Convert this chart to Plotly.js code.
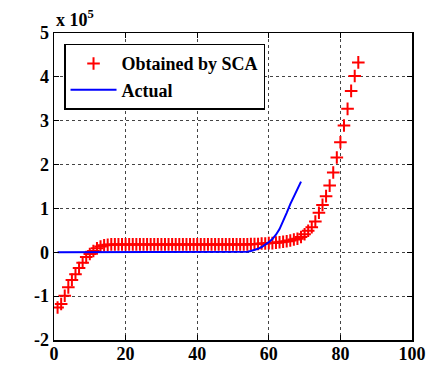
<!DOCTYPE html>
<html>
<head>
<meta charset="utf-8">
<script src="https://cdn.plot.ly/plotly-3.0.1.min.js"></script>
<style>html,body{margin:0;padding:0;background:#fff;}#chart{width:430px;height:365px;}</style>
</head>
<body>
<div id="chart"></div>
<script>
// Values in units of 10^5
const scaX = [1,2,3,4,5,6,7,8,9,10,11,12,13,14,15,16,17,18,19,20,21,22,23,24,25,26,27,28,29,30,31,32,33,34,35,36,37,38,39,40,41,42,43,44,45,46,47,48,49,50,51,52,53,54,55,56,57,58,59,60,61,62,63,64,65,66,67,68,69,70,71,72,73,74,75,76,77,78,79,80,81,82,83,84,85];
const scaY = [-1.26,-1.18,-0.99,-0.80,-0.63,-0.50,-0.36,-0.24,-0.11,-0.04,0.03,0.09,0.13,0.16,0.17,0.18,0.18,0.18,0.18,0.18,0.18,0.18,0.18,0.18,0.18,0.18,0.18,0.18,0.18,0.18,0.18,0.18,0.18,0.18,0.18,0.18,0.18,0.18,0.18,0.18,0.18,0.18,0.18,0.18,0.18,0.18,0.18,0.18,0.18,0.18,0.18,0.18,0.18,0.18,0.185,0.19,0.19,0.20,0.20,0.21,0.21,0.22,0.23,0.24,0.25,0.27,0.29,0.31,0.35,0.41,0.49,0.57,0.70,0.90,1.08,1.28,1.52,1.82,2.16,2.51,2.89,3.27,3.68,4.02,4.33];
const actX = [1,2,3,4,5,6,7,8,9,10,11,12,13,14,15,16,17,18,19,20,21,22,23,24,25,26,27,28,29,30,31,32,33,34,35,36,37,38,39,40,41,42,43,44,45,46,47,48,49,50,51,52,53,54,55,56,57,58,59,60,61,62,63,64,65,66,67,68,69];
const actY = [0,0,0,0,0,0,0,0,0,0,0,0,0,0,0,0,0,0,0,0,0,0,0,0,0,0,0,0,0,0,0,0,0,0,0,0,0,0,0,0,0,0,0,0,0,0,0,0,0,0,0,0,0.005,0.015,0.03,0.05,0.08,0.12,0.17,0.23,0.30,0.40,0.53,0.70,0.90,1.10,1.28,1.45,1.61];
const xTickVals = [0,20,40,60,80,100];
const xTickText = ['0','20','40','60','80','100'];
const yTickVals = [-2,-1,0,1,2,3,4,5];
const yTickText = ['-2','-1','0','1','2','3','4','5'];
const seriesNames = ['Obtained by SCA','Actual'];

const FAM = 'Liberation Serif';
const axisCommon = {
  showline:true, mirror:'ticks', linecolor:'#000', linewidth:1.5,
  ticks:'inside', ticklen:5, tickcolor:'#000', tickwidth:1,
  showgrid:true, gridcolor:'#444', griddash:'dot', gridwidth:1,
  zeroline:false, tickfont:{family:FAM, size:18, color:'#000', weight:'bold'}
};
const data = [
  {x:scaX, y:scaY, name:seriesNames[0], type:'scatter', mode:'markers',
   marker:{symbol:'cross-thin-open', size:9, color:'#ff0000', line:{color:'#ff0000', width:2}}},
  {x:actX, y:actY, name:seriesNames[1], type:'scatter', mode:'lines',
   line:{color:'#0000ff', width:2}}
];
const layout = {
  width:430, height:365,
  margin:{l:54, r:18, t:33, b:25, pad:0},
  paper_bgcolor:'#fff', plot_bgcolor:'#fff',
  font:{family:FAM, size:16, color:'#000'},
  showlegend:true,
  legend:{x:0.028, y:0.965, xanchor:'left', yanchor:'top', bgcolor:'#fff',
    bordercolor:'#000', borderwidth:1.5,
    font:{family:FAM, size:18, color:'#000', weight:'bold'},
    itemwidth:46, tracegroupgap:0},
  xaxis:Object.assign({}, axisCommon, {range:[0,100], tickvals:xTickVals, ticktext:xTickText, ticklabelstandoff:-3}),
  yaxis:Object.assign({}, axisCommon, {range:[-2,5], tickvals:yTickVals, ticktext:yTickText}),
  annotations:[{xref:'paper', yref:'paper', x:0.0, y:1, xanchor:'left', yanchor:'bottom',
    yshift:1, showarrow:false, text:'x 10<sup>5</sup>',
    font:{family:FAM, size:18, color:'#000', weight:'bold'}}]
};
Plotly.newPlot('chart', data, layout, {displayModeBar:false, staticPlot:true});
</script>
</body>
</html>
